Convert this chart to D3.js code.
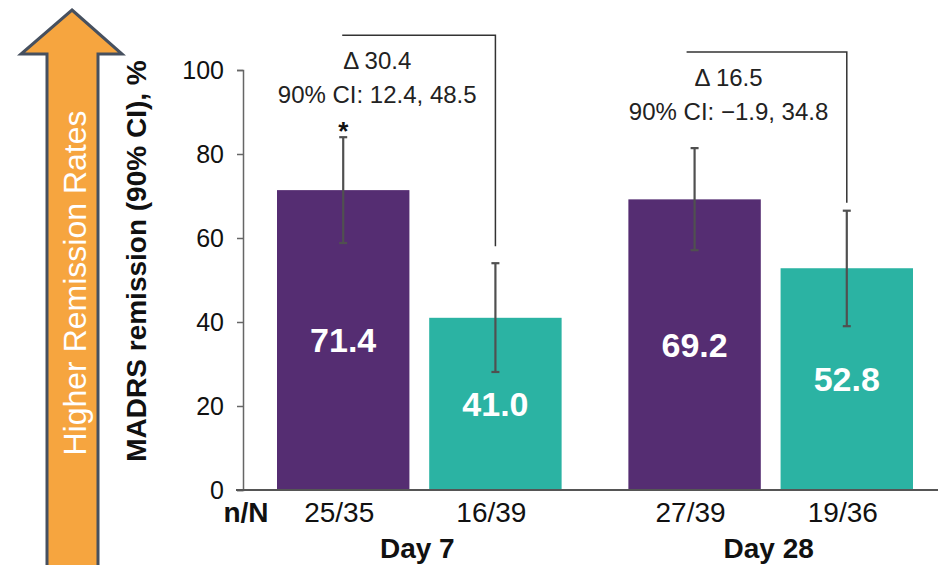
<!DOCTYPE html>
<html>
<head>
<meta charset="utf-8">
<script src="https://cdn.jsdelivr.net/npm/d3@7/dist/d3.min.js"></script>
<style>
  body { margin: 0; background: #fff; }
  svg { display: block; font-family: Arial, "Liberation Sans", Helvetica, sans-serif; }
</style>
</head>
<body>
<svg width="938" height="565"></svg>
<script>
// data
var days = ["Day 7", "Day 28"];
var arms = ["arm1", "arm2"];
var armColors = ["#552d72", "#2bb3a3"];
var remission = [[71.4, 41.0], [69.2, 52.8]];
var ciLow = [[58.8, 28.1], [57.1, 39.0]];
var ciHigh = [[84.0, 54.0], [81.4, 66.5]];
var nN = [["25/35", "16/39"], ["27/39", "19/36"]];
var yTicks = [0, 20, 40, 60, 80, 100];
var deltaText = ["\u0394 30.4", "\u0394 16.5"];
var ciText = ["90% CI: 12.4, 48.5", "90% CI: \u22121.9, 34.8"];
var bracketLevel = [108.3, 104.3];
var significant = [true, false];

var svg = d3.select("svg");

var y = d3.scaleLinear().domain([0, 100]).range([490, 70]);
var x0 = d3.scaleBand().domain(days).range([277, 913]).paddingInner(0.19).paddingOuter(0);
var x1 = d3.scaleBand().domain(arms).range([0, x0.bandwidth()]).paddingInner(0.13);

function cx(di, ai) { return x0(days[di]) + x1(arms[ai]) + x1.bandwidth() / 2; }

// flatten into rows
var rows = [];
days.forEach(function(day, di) {
	arms.forEach(function(arm, ai) {
		rows.push({ di: di, ai: ai, day: day, arm: arm, v: remission[di][ai],
			lo: ciLow[di][ai], hi: ciHigh[di][ai], n: nN[di][ai] });
	});
});

// left arrow
var arrow = svg.append("g");
arrow.append("path")
	.attr("d", "M72,10 L122,54 L98,54 L98,575 L47,575 L47,54 L21,54 Z")
	.attr("fill", "#f6a53f")
	.attr("stroke", "#46505f")
	.attr("stroke-width", 3)
	.attr("stroke-linejoin", "miter");
arrow.append("text")
	.attr("transform", "translate(86,283) rotate(-90)")
	.attr("text-anchor", "middle")
	.attr("fill", "#fff")
	.style("font-size", "32px")
	.text("Higher Remission Rates");

// y axis title
svg.append("text")
	.attr("transform", "translate(146,261) rotate(-90)")
	.attr("text-anchor", "middle")
	.attr("fill", "#111")
	.style("font-size", "28px")
	.style("font-weight", "bold")
	.text("MADRS remission (90% CI), %");

// y axis
var yAxis = svg.append("g")
	.attr("transform", "translate(243,0)")
	.call(d3.axisLeft(y).tickValues(yTicks).tickSize(6).tickPadding(13));
yAxis.select(".domain").attr("stroke", "#666").attr("stroke-width", 1.5);
yAxis.selectAll(".tick line").attr("stroke", "#666").attr("stroke-width", 1.5);
yAxis.selectAll(".tick text")
	.attr("fill", "#111")
	.style("font-size", "25px")
	.style("font-family", "Arial, 'Liberation Sans', sans-serif");

// bars
svg.append("g").selectAll("rect")
	.data(rows)
	.enter().append("rect")
	.attr("x", function(d) { return x0(d.day) + x1(d.arm); })
	.attr("y", function(d) { return y(d.v); })
	.attr("width", x1.bandwidth())
	.attr("height", function(d) { return y(0) - y(d.v); })
	.attr("fill", function(d) { return armColors[d.ai]; });

// baseline
svg.append("line")
	.attr("x1", 236).attr("x2", 938)
	.attr("y1", y(0)).attr("y2", y(0))
	.attr("stroke", "#555").attr("stroke-width", 2);

// error bars
var err = svg.append("g").attr("stroke", "#505050").attr("stroke-width", 2.2);
err.selectAll("line.v")
	.data(rows)
	.enter().append("line")
	.attr("class", "v")
	.attr("x1", function(d) { return cx(d.di, d.ai); })
	.attr("x2", function(d) { return cx(d.di, d.ai); })
	.attr("y1", function(d) { return y(d.lo); })
	.attr("y2", function(d) { return y(d.hi); });
["lo", "hi"].forEach(function(k) {
	err.selectAll("line.cap-" + k)
		.data(rows)
		.enter().append("line")
		.attr("class", "cap-" + k)
		.attr("x1", function(d) { return cx(d.di, d.ai) - 4; })
		.attr("x2", function(d) { return cx(d.di, d.ai) + 4; })
		.attr("y1", function(d) { return y(d[k]); })
		.attr("y2", function(d) { return y(d[k]); });
});

// value labels inside bars
svg.append("g").selectAll("text")
	.data(rows)
	.enter().append("text")
	.attr("x", function(d) { return cx(d.di, d.ai); })
	.attr("y", function(d) { return (y(d.v) + y(0)) / 2; })
	.attr("dy", "0.36em")
	.attr("text-anchor", "middle")
	.attr("fill", "#fff")
	.style("font-size", "34px")
	.style("font-weight", "bold")
	.text(function(d) { return d.v.toFixed(1); });

// n/N labels
svg.append("text")
	.attr("x", 246).attr("y", 522)
	.attr("text-anchor", "middle")
	.attr("fill", "#111")
	.style("font-size", "28px")
	.style("font-weight", "bold")
	.text("n/N");
svg.append("g").selectAll("text")
	.data(rows)
	.enter().append("text")
	.attr("x", function(d) { return cx(d.di, d.ai) - 4; })
	.attr("y", 522)
	.attr("text-anchor", "middle")
	.attr("fill", "#111")
	.style("font-size", "28px")
	.text(function(d) { return d.n; });

// day labels
svg.append("g").selectAll("text")
	.data(days)
	.enter().append("text")
	.attr("x", function(d) { return x0(d) + x0.bandwidth() / 2 - 2; })
	.attr("y", 558)
	.attr("text-anchor", "middle")
	.attr("fill", "#111")
	.style("font-size", "28px")
	.style("font-weight", "bold")
	.text(function(d) { return d; });

// comparison brackets
days.forEach(function(day, di) {
	var xl = cx(di, 0) - (di === 0 ? 1 : 8), xr = cx(di, 1);
	var top = y(bracketLevel[di]);
	var bottom = y(ciHigh[di][1]) - (di === 0 ? 17 : 8);
	svg.append("path")
		.attr("d", "M" + xl + "," + top + " H" + xr + " V" + bottom)
		.attr("fill", "none")
		.attr("stroke", "#333")
		.attr("stroke-width", 1.5);
	var tx = cx(di, 0) + 34;
	svg.append("text")
		.attr("x", tx).attr("y", top + 34)
		.attr("text-anchor", "middle")
		.attr("fill", "#222")
		.style("font-size", "24px")
		.text(deltaText[di]);
	svg.append("text")
		.attr("x", tx).attr("y", top + 68)
		.attr("text-anchor", "middle")
		.attr("fill", "#222")
		.style("font-size", "24px")
		.text(ciText[di]);
	if (significant[di]) {
		svg.append("text")
			.attr("x", cx(di, 0)).attr("y", y(ciHigh[di][0]) + 3)
			.attr("text-anchor", "middle")
			.attr("fill", "#111")
			.style("font-size", "26px")
			.style("font-weight", "bold")
			.text("*");
	}
});
</script>
</body>
</html>
